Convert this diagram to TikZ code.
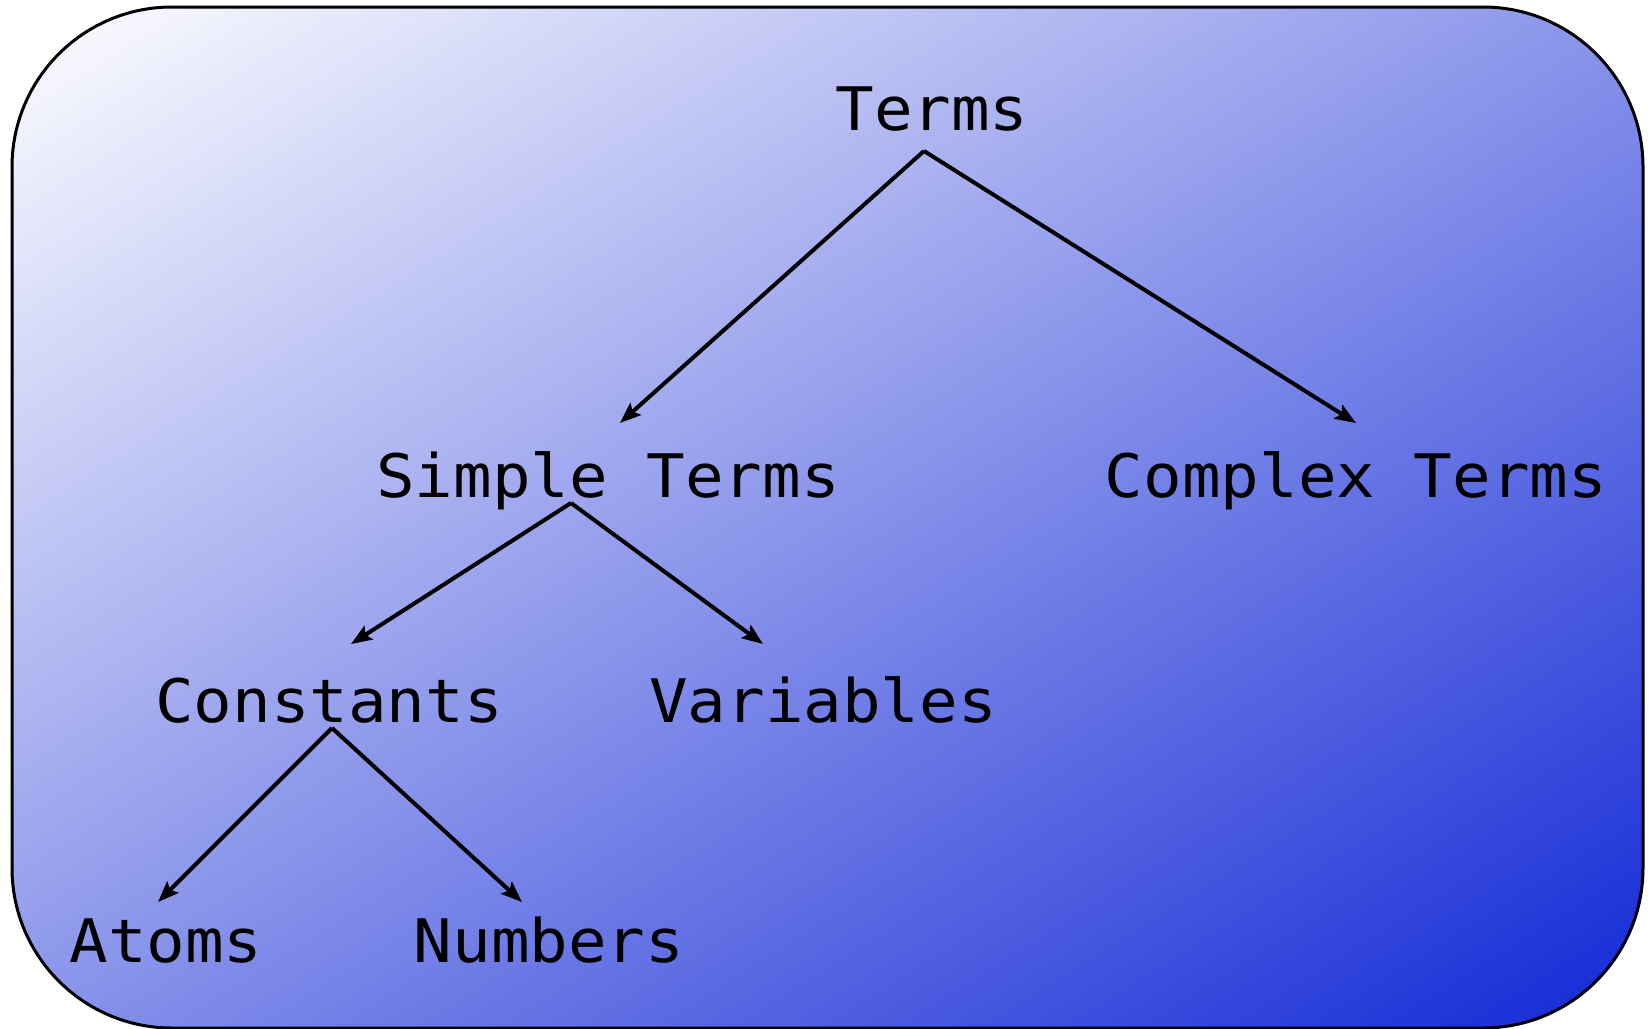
\documentclass[tikz,border=0pt]{standalone}
\usepackage{fontspec}
\newfontfamily\lblfont{DejaVu Sans Mono}[FakeStretch=1.07]
\usetikzlibrary{arrows.meta,calc}
\definecolor{boxblue}{RGB}{18,40,214}
\tikzset{
  lbl/.style={inner sep=0pt, anchor=base, font=\lblfont\fontsize{60pt}{72pt}\selectfont},
  arr/.style={line width=4pt, -{Stealth[length=21pt,width=16pt,inset=4pt]}},
  frame/.style={draw=black, line width=3pt, rounded corners=160pt},
  framefill/.style={left color=white, right color=boxblue}
}
\begin{document}
\begin{tikzpicture}[x=1pt,y=-1pt]
\useasboundingbox (0,0) rectangle (1651,1028);
% diagonal gradient fill (isolines parallel to the anti-diagonal)
\begin{scope}
  \clip[rounded corners=160pt] (12,7) rectangle (1643,1028);
  \begin{scope}[transform canvas={cm={16.31,-10.21,16.31,10.21,(12pt,-7pt)}}]
    \shade[framefill] (0pt,-50pt) rectangle (100pt,50pt);
  \end{scope}
\end{scope}
\path[frame] (12,7) rectangle (1643,1028);
\node[lbl] (terms) at (932,130) {Terms};
\node[lbl] (simple) at (608,497) {Simple Terms};
\node[lbl] (complex) at (1356,497) {Complex Terms};
\node[lbl] (constants) at (329,722) {Constants};
\node[lbl] (variables) at (823,722) {Variables};
\node[lbl] (atoms) at (166,962) {Atoms};
\node[lbl] (numbers) at (549,962) {Numbers};
\draw[arr] ($(terms.base)+(-8,21)$) -- ($(simple.base)+(12,-74)$);
\draw[arr] ($(terms.base)+(-8,21)$) -- ($(complex.base)+(0,-74)$);
\draw[arr] ($(simple.base)+(-37,6)$) -- ($(constants.base)+(22,-78)$);
\draw[arr] ($(simple.base)+(-37,6)$) -- ($(variables.base)+(-60,-78)$);
\draw[arr] ($(constants.base)+(3,6)$) -- ($(atoms.base)+(-8,-60)$);
\draw[arr] ($(constants.base)+(3,6)$) -- ($(numbers.base)+(-27,-60)$);
\end{tikzpicture}
\end{document}
